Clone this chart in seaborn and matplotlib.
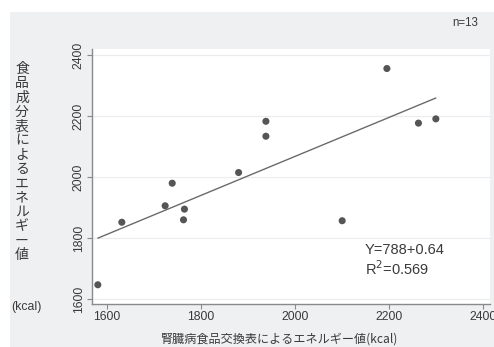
import numpy as np
import pandas as pd
import seaborn as sns
import matplotlib
matplotlib.use("Agg")
import matplotlib.pyplot as plt
from matplotlib.patches import Rectangle

# Energy values (kcal) for 13 menus
exchange_kcal = [1581, 1632, 1724, 1739, 1765, 1763, 1880, 1938, 1938, 2100, 2195, 2262, 2299]
composition_kcal = [1647, 1852, 1906, 1980, 1895, 1860, 2015, 2183, 2134, 1857, 2356, 2177, 2191]

# Regression result shown on the chart
intercept = 788
slope = 0.64
r_squared = 0.569

x_ticks = [1600, 1800, 2000, 2200, 2400]
y_ticks = [1600, 1800, 2000, 2200, 2400]

sns.set_theme(style="white")
plt.rcParams["font.family"] = ["Liberation Sans", "Noto Sans CJK JP", "DejaVu Sans"]
jp_font = ["Noto Sans CJK JP", "Liberation Sans", "DejaVu Sans"]

txt = "#3a3a3a"
bg = "#eef0f1"

fig = plt.figure(figsize=(4.94, 3.47), dpi=100, facecolor="white")
fig.patches.append(Rectangle((10 / 494, 0), 1 - 10 / 494, 1 - 12 / 347,
                             transform=fig.transFigure, facecolor=bg,
                             edgecolor="none", zorder=-10))

ax = fig.add_axes([91.7 / 494, 43 / 347, (490 - 91.7) / 494, (304 - 49) / 347])
ax.set_facecolor("white")

df = pd.DataFrame({"x": exchange_kcal, "y": composition_kcal})
fit_x = np.array([min(exchange_kcal), max(exchange_kcal)])
fit = pd.DataFrame({"x": fit_x, "y": intercept + slope * fit_x})

sns.lineplot(data=fit, x="x", y="y", ax=ax, color="#6a6a6a", linewidth=1.0, zorder=3)
sns.scatterplot(data=df, x="x", y="y", ax=ax, color="#555555", s=26,
                edgecolor="none", zorder=4)

ax.set_xlim(1568, 2414)
ax.set_ylim(1584, 2420)
ax.set_xticks(x_ticks)
ax.set_yticks(y_ticks)
ax.set_xticklabels([str(t) for t in x_ticks], fontsize=8.8, color=txt)
ax.set_yticklabels([str(t) for t in y_ticks], fontsize=8.8, color=txt,
                   rotation=90, va="center")
ax.yaxis.grid(True, color="#ececec", linewidth=0.8)
ax.xaxis.grid(False)
ax.set_axisbelow(True)

for side in ["top", "right"]:
    ax.spines[side].set_visible(False)
for side in ["left", "bottom"]:
    ax.spines[side].set_color("#8a8a8a")
    ax.spines[side].set_linewidth(1.0)
ax.tick_params(axis="both", direction="out", length=3.5, width=0.8,
               color="#8a8a8a", pad=1.5, bottom=True, left=True)
ax.set_xlabel("")
ax.set_ylabel("")

# Regression equation
fig.text(365 / 494, 1 - 250 / 347, f"Y={intercept}+{slope}",
         fontsize=10.5, color=txt, va="center", ha="left")
fig.text(365 / 494, 1 - 268.5 / 347, f"R$^2$={r_squared}",
         fontsize=10.5, color=txt, va="center", ha="left")

# Sample size
fig.text(465 / 494, 1 - 23 / 347, "n=13", fontsize=8.3, color=txt,
         ha="center", va="center")

# Axis titles
y_title = "食品成分表によるエネルギー値"
fig.text(22 / 494, 1 - 162 / 347, "\n".join(y_title), family=jp_font,
         fontsize=10, color=txt, ha="center", va="center", linespacing=1.03)
fig.text(26 / 494, 1 - 307 / 347, "(kcal)", fontsize=8.8, color=txt,
         ha="center", va="center")
fig.text(280 / 494, 1 - 339 / 347, "腎臓病食品交換表によるエネルギー値(kcal)",
         family=jp_font, fontsize=8.7, color=txt, ha="center", va="center")

fig.savefig("out.png", dpi=100, facecolor="white")
